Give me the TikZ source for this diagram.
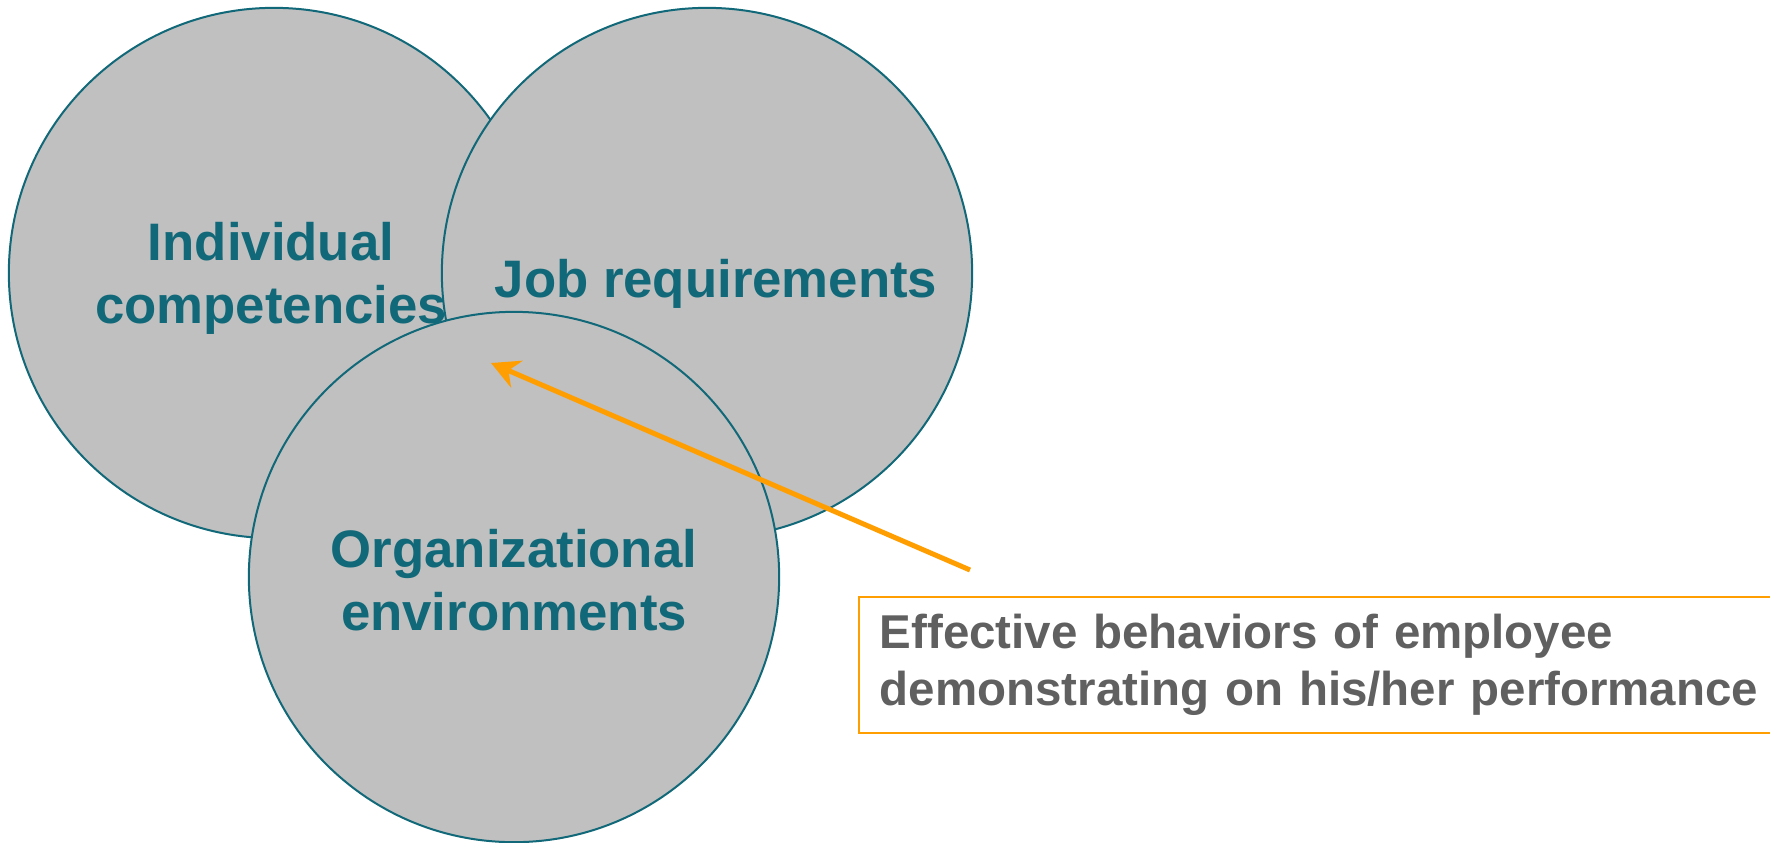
\documentclass[tikz,border=0pt]{standalone}
\usepackage{fontspec}
\setmainfont{Liberation Sans}
\usepackage{tikz}
\usetikzlibrary{arrows.meta}
\definecolor{petrol}{RGB}{17,104,120}
\definecolor{shade}{RGB}{192,192,192}
\definecolor{amber}{RGB}{255,158,0}
\definecolor{slate}{RGB}{96,96,96}
\tikzset{
    area/.style={shape=circle,draw=petrol,fill=shade,line width=0.2mm,minimum size=5.3cm,inner sep=0pt},
    areatext/.style={text=petrol,align=center,font=\fontsize{15}{17.9}\selectfont\bfseries}
}

\begin{document}
\begin{tikzpicture}[x=0.01cm,y=-0.01cm]
    \useasboundingbox (0,0) rectangle (1770,842);

    \node[area] (indiv) at (274,273) {};
    \node[area] (job) at (707,273) {};
    \node[areatext] (indiv_t) at ([xshift=-0.3mm,yshift=-0.5mm]indiv) {Individual\\competencies};
    \node[areatext] (job_t) at ([xshift=0.9mm,yshift=-1.1mm]job) {Job requirements};
    \node[area] (org) at (514,577) {};
    \node[areatext] (org_t) at ([yshift=-0.35mm]org) {Organizational\\environments};

    \node[draw=amber,line width=0.15mm,anchor=north west,minimum height=1.36cm,
          inner xsep=2.1mm,text width=9cm,align=left,text=slate,
          font=\fontsize{13.5}{16.3}\selectfont\bfseries] (behav) at (858,596)
          {Effective behaviors of employee\\demonstrating on his/her performance};

    \coordinate (tail) at (970,570);
    \coordinate (tip) at (491,363);
    \draw [amber,line width=0.5mm,-{Stealth[length=2.8mm, width=2.9mm]}] (tail) -- (tip);
\end{tikzpicture}
\end{document}
